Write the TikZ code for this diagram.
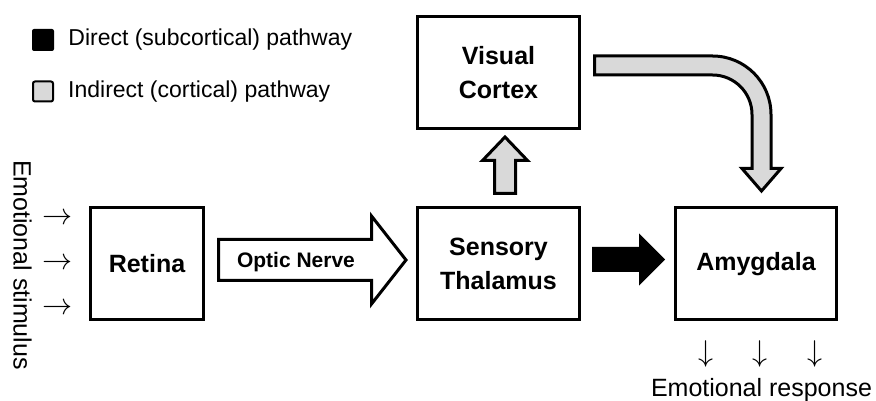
\documentclass[tikz,border=0pt]{standalone}
\usepackage{fontspec}
\setmainfont{Liberation Sans}
\usepackage{tikz}
\usetikzlibrary{calc}
\usetikzlibrary{positioning}
\colorlet{Dcol}{black}
\colorlet{Icol}{black!15}
\tikzset{
  region/.style={draw=black,line width=3pt,align=center,inner sep=0pt,
    minimum width=162pt,minimum height=112pt,font=\fontsize{25}{34}\selectfont\bfseries},
  direct/.style={draw=black,line width=3pt,fill=Dcol},
  indirect/.style={draw=black,line width=3pt,fill=Icol},
  nerve/.style={draw=black,line width=3pt,fill=white},
  legbox/.style={inner sep=0pt,minimum size=22pt,rounded corners=2pt},
  legtext/.style={inner sep=0pt,font=\fontsize{23}{28}\selectfont},
  freetext/.style={inner sep=0pt,font=\fontsize{25}{30}\selectfont},
  arrowglyph/.style={inner sep=0pt,font=\fontsize{20.74}{21}\selectfont},
}

\begin{document}
\begin{tikzpicture}[x=1pt,y=1pt]
  % --- Definitions ---
  \def\rowY{137}     % centre line of the lower row
  \def\topY{328.5}   % centre line of Visual Cortex
  \def\midX{498.5}   % column of thalamus and cortex
  \useasboundingbox (0,0) rectangle (876,401);

  % --- 1. Legend ---
  \node[legbox, fill=Dcol] (legD) at (43,361) {};
  \node[legbox, fill=Icol, draw=black, line width=2pt, minimum size=20pt] (legI) at (43,309.5) {};
  \node[legtext, right=14pt of legD] (legDtxt) {Direct (subcortical) pathway};
  \node[legtext, right=14pt of legI] (legItxt) {Indirect (cortical) pathway};

  % --- 2. Regions ---
  \node[region, minimum width=113pt] (retina) at (147,\rowY) {Retina};
  \node[region] (thal) at (\midX,\rowY) {Sensory\\Thalamus};
  \node[region, minimum width=161pt] (amy) at (756,\rowY) {Amygdala};
  \node[region] (vc) at (\midX,\topY) {Visual\\Cortex};

  % --- 3. Stimulus and response ---
  \node[freetext, rotate=-90, anchor=base] (stim) at (13.5,136) {Emotional stimulus};
  \foreach \y [count=\i] in {182,137,92} {%
    \node[arrowglyph] (in\i) at (58,\y) {\scalebox{1.45}{$\rightarrow$}};
  }
  \foreach \x [count=\i] in {706,760,815} {%
    \node[arrowglyph] (out\i) at (\x,47) {\scalebox{1.45}{$\downarrow$}};
  }
  \node[freetext, anchor=base] (resp) at (761.5,4) {Emotional response};

  % --- 4. Pathways ---
  % Optic nerve: retina to thalamus
  \coordinate (onS) at ($(retina.east)+(13.5,4)$);
  \coordinate (onT) at ($(thal.west)+(-10,4)$);
  \draw[nerve] ($(onS)+(0,20.5)$) -- ($(onT)+(-34.5,20.5)$) -- ($(onT)+(-34.5,44)$) -- (onT)
    -- ($(onT)+(-34.5,-44)$) -- ($(onT)+(-34.5,-20.5)$) -- ($(onS)+(0,-20.5)$) -- cycle;
  \node[font=\fontsize{21}{25}\selectfont\bfseries, inner sep=0pt, anchor=base] (onlbl)
    at ($(onS)+(77.5,-8)$) {Optic Nerve};

  % Direct route: thalamus to amygdala
  \coordinate (drS) at ($(thal.east)+(12.5,4.5)$);
  \coordinate (drT) at ($(amy.west)+(-11,4.5)$);
  \draw[direct] ($(drS)+(0,11)$) -- ($(drT)+(-22.5,11)$) -- ($(drT)+(-22.5,22.5)$) -- (drT)
    -- ($(drT)+(-22.5,-22.5)$) -- ($(drT)+(-22.5,-11)$) -- ($(drS)+(0,-11)$) -- cycle;

  % Indirect route, part 1: thalamus up to cortex
  \coordinate (upS) at ($(thal.north)+(6.5,13)$);
  \coordinate (upT) at ($(vc.south)+(6.5,-7)$);
  \draw[indirect] ($(upS)+(-10.5,0)$) -- ($(upT)+(-10.5,-23.5)$) -- ($(upT)+(-22.5,-23.5)$) -- (upT)
    -- ($(upT)+(22.5,-23.5)$) -- ($(upT)+(10.5,-23.5)$) -- ($(upS)+(10.5,0)$) -- cycle;

  % Indirect route, part 2: cortex round to amygdala
  \coordinate (ixS) at ($(vc.east)+(13.5,7)$);
  \coordinate (ixT) at ($(amy.north)+(5.5,15.5)$);
  \coordinate (bend) at ($(ixT |- ixS)+(-49,-49)$);
  \draw[indirect] ($(ixS)+(0,9.5)$) -- ($(bend)+(0,58.5)$) arc[start angle=90, end angle=0, radius=58.5]
    -- ($(ixT)+(9.5,22.5)$) -- ($(ixT)+(19.5,22.5)$) -- (ixT) -- ($(ixT)+(-19.5,22.5)$)
    -- ($(ixT)+(-9.5,22.5)$) -- ($(bend)+(39.5,0)$) arc[start angle=0, end angle=90, radius=39.5]
    -- ($(ixS)+(0,-9.5)$) -- cycle;

\end{tikzpicture}
\end{document}
